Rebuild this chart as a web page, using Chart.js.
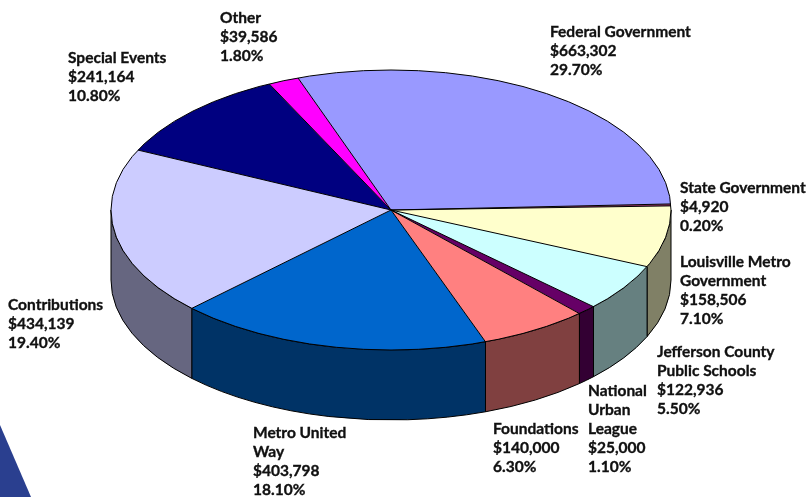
<!DOCTYPE html>
<html><head><meta charset="utf-8">
<script src="https://cdn.jsdelivr.net/npm/chart.js@4.4.1/dist/chart.umd.min.js"></script>
<style>html,body{margin:0;padding:0;background:#fff;} #wrap{position:relative;width:810px;height:497px;}</style>
</head><body><div id="wrap"><canvas id="c"></canvas></div>
<script>
// ---- data ----
const categories = ["Federal Government","State Government","Louisville Metro Government","Jefferson County Public Schools","National Urban League","Foundations","Metro United Way","Contributions","Special Events","Other"];
const amounts = [663302,4920,158506,122936,25000,140000,403798,434139,241164,39586];
const percents = [29.7,0.2,7.1,5.5,1.1,6.3,18.1,19.4,10.8,1.8];

// ---- styles / layout ----
const topColors  = ["#9999FF","#993366","#FFFFCC","#CCFFFF","#660066","#FF8080","#0066CC","#CCCCFF","#000080","#FF00FF"];
const sideColors = ["#4D4D80","#4D1A33","#808066","#668080","#330033","#804040","#003366","#666680","#000040","#800080"];
const labelLayout = [
  {x:550,y:37,w:400},{x:680,y:193,w:400},{x:680,y:267,w:135},{x:657,y:357,w:135},
  {x:588,y:396,w:72},{x:493,y:434,w:400},{x:253,y:438,w:112},{x:8,y:310,w:400},
  {x:68,y:63,w:400},{x:220,y:23,w:400}
];
const SX = 2, DEPTH = 70, LINE_H = 19, FONT = "bold 15.5px Lato";

function wrap(ctx, text, w){
  const words = text.split(" "); const lines=[]; let cur="";
  words.forEach(wd=>{ const t = cur? cur+" "+wd : wd; if(cur && ctx.measureText(t).width>w){lines.push(cur);cur=wd;} else cur=t; });
  if(cur) lines.push(cur); return lines;
}

const pie3d = {
  id:'pie3d',
  beforeDraw(chart){
    const ctx=chart.ctx; ctx.save(); ctx.fillStyle='#2A3F8F';
    ctx.beginPath(); ctx.moveTo(0,425); ctx.lineTo(31,497); ctx.lineTo(0,497); ctx.closePath(); ctx.fill(); ctx.restore();
  },
  beforeDatasetsDraw(chart){
    const arcs=chart.getDatasetMeta(0).data; const ctx=chart.ctx;
    const cx=arcs[0].x, cy=arcs[0].y, r=arcs[0].outerRadius, rx=r*SX, ry=r, d=DEPTH;
    ctx.save(); ctx.lineWidth=1; ctx.strokeStyle='#000'; ctx.lineJoin='round';
    arcs.forEach((a,i)=>{
      for(let k=-1;k<=1;k++){
        const lo=Math.max(a.startAngle+2*Math.PI*k,0), hi=Math.min(a.endAngle+2*Math.PI*k,Math.PI);
        if(hi>lo){
          ctx.beginPath();
          ctx.ellipse(cx,cy,rx,ry,0,lo,hi,false);
          ctx.lineTo(cx+rx*Math.cos(hi), cy+d+ry*Math.sin(hi));
          ctx.ellipse(cx,cy+d,rx,ry,0,hi,lo,true);
          ctx.closePath();
          ctx.fillStyle=sideColors[i]; ctx.fill(); ctx.stroke();
        }
      }
    });
    ctx.restore();
    ctx.save(); ctx.translate(cx,cy); ctx.scale(SX,1); ctx.translate(-cx,-cy);
  },
  afterDatasetsDraw(chart){
    const ctx=chart.ctx; ctx.restore();
    const arcs=chart.getDatasetMeta(0).data;
    const cx=arcs[0].x, cy=arcs[0].y, r=arcs[0].outerRadius, rx=r*SX, ry=r;
    ctx.save(); ctx.lineWidth=1; ctx.strokeStyle='#000';
    ctx.beginPath(); ctx.ellipse(cx,cy,rx,ry,0,0,2*Math.PI); ctx.stroke();
    arcs.forEach(a=>{
      ctx.beginPath(); ctx.moveTo(cx,cy);
      ctx.lineTo(cx+rx*Math.cos(a.startAngle), cy+ry*Math.sin(a.startAngle)); ctx.stroke();
    });
    ctx.restore();
  },
  afterDraw(chart){
    const ctx=chart.ctx; ctx.save(); ctx.font=FONT; ctx.fillStyle='#111'; ctx.strokeStyle='#111'; ctx.lineWidth=0.35; ctx.textBaseline='alphabetic';
    categories.forEach((c,i)=>{
      const L=labelLayout[i];
      const lines = wrap(ctx,c,L.w).concat(["$"+amounts[i].toLocaleString('en-US'), percents[i].toFixed(2)+"%"]);
      lines.forEach((t,j)=>{ctx.fillText(t,L.x,L.y+j*LINE_H); ctx.strokeText(t,L.x,L.y+j*LINE_H);});
    });
    ctx.restore();
  }
};

new Chart(document.getElementById('c'),{
  type:'pie',
  data:{labels:categories,datasets:[{data:amounts,backgroundColor:topColors,borderWidth:0,clip:false}]},
  options:{
    responsive:true, maintainAspectRatio:false, animation:false, events:[],
    rotation:-19.4, radius:140,
    layout:{padding:{left:0,right:28,top:0,bottom:77}},
    plugins:{legend:{display:false},tooltip:{enabled:false}}
  },
  plugins:[pie3d]
});
</script></body></html>
